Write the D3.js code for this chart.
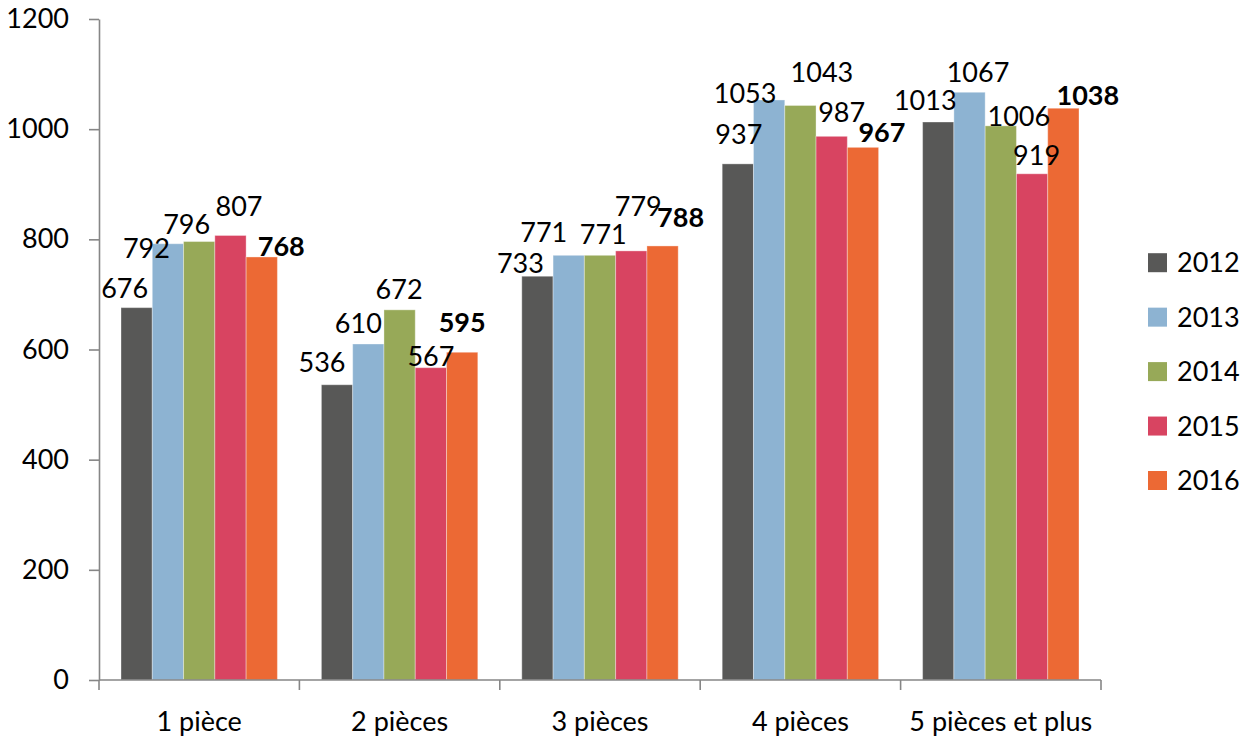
<!DOCTYPE html>
<html>
<head>
<meta charset="utf-8">
<script src="https://cdn.jsdelivr.net/npm/d3@7"></script>
<style>
  html, body { margin: 0; padding: 0; background: #fff; }
  svg text { font-family: Lato, "Open Sans", sans-serif; fill: #000; }
</style>
</head>
<body>
<svg id="chart" width="1246" height="738"></svg>
<script>
// ---- data ----
const categories = ["1 pièce", "2 pièces", "3 pièces", "4 pièces", "5 pièces et plus"];
const years = ["2012", "2013", "2014", "2015", "2016"];
const v2012 = [676, 536, 733, 937, 1013];
const v2013 = [792, 610, 771, 1053, 1067];
const v2014 = [796, 672, 771, 1043, 1006];
const v2015 = [807, 567, 779, 987, 919];
const v2016 = [768, 595, 788, 967, 1038];
const yTicks = [0, 200, 400, 600, 800, 1000, 1200];

// ---- style / layout ----
const colors = ["#585857", "#8DB3D2", "#97A958", "#D84461", "#EC6934"];
const boldSeries = [false, false, false, false, true];
// label nudges (dx from bar centre, dy of baseline from bar top) as placed in the original
const labelNudge = [
  [[-12, -9.5], [-15, -13], [-17, -3], [1, -20], [-13, -12]],
  [[-21.5, 14], [-10, -10.5], [-25, -13.5], [-24, 3.5], [8.5, -10.5]],
  [[-12.5, -8], [-0.5, -10.5], [3.3, -11], [21.5, -23.5], [18, 0]],
  [[8.5, -19], [0, -1.5], [7, -35], [10, -14.5], [4.5, -9]],
  [[19.5, -1], [0, -20.5], [18, -19], [19, -5.5], [24.5, -3]]
];
const series = [v2012, v2013, v2014, v2015, v2016];

const svg = d3.select("#chart");
const mLeft = 99, mRight = 1101, mTop = 19, mBottom = 680;
const fontSize = 27;

const x0 = d3.scaleBand().domain(categories).range([mLeft, mRight]).padding(0);
const bw = x0.bandwidth();
const x1 = d3.scaleBand().domain(years).range([22, bw - 22]).padding(0);
const y = d3.scaleLinear().domain([0, 1200]).range([mBottom, mTop]);

// bars
const rows = [];
categories.forEach((c, ci) => {
  years.forEach((yr, si) => {
    rows.push({ c, ci, yr, si, v: series[si][ci] });
  });
});

svg.append("g").selectAll("rect").data(rows).join("rect")
  .attr("x", d => x0(d.c) + x1(d.yr))
  .attr("y", d => y(d.v))
  .attr("width", x1.bandwidth())
  .attr("height", d => y(0) - y(d.v))
  .attr("fill", d => colors[d.si])
  .attr("stroke", "#ffffff")
  .attr("stroke-opacity", 0.35)
  .attr("stroke-width", 1);

// y axis
const yAxis = d3.axisLeft(y).tickValues(yTicks).tickSize(10).tickSizeOuter(0).tickPadding(20).tickFormat(d3.format("d"));
const gy = svg.append("g").attr("transform", `translate(${mLeft},0)`).call(yAxis);
gy.selectAll("path, line").attr("stroke", "#868686").attr("stroke-width", 1.6);
gy.selectAll("text").attr("font-size", fontSize).attr("font-family", "Lato, 'Open Sans', sans-serif").attr("fill", "#000");

// x axis: baseline + boundary ticks
const gx = svg.append("g");
gx.append("line").attr("x1", mLeft).attr("x2", mRight).attr("y1", y(0)).attr("y2", y(0))
  .attr("stroke", "#868686").attr("stroke-width", 1.6);
const bounds = categories.map(c => x0(c)).concat([x0(categories[categories.length - 1]) + bw]);
gx.selectAll("line.tk").data(bounds).join("line").attr("class", "tk")
  .attr("x1", d => d).attr("x2", d => d).attr("y1", y(0)).attr("y2", y(0) + 10)
  .attr("stroke", "#868686").attr("stroke-width", 1.6);
gx.selectAll("text").data(categories).join("text")
  .attr("x", d => x0(d) + bw / 2)
  .attr("y", 731)
  .attr("text-anchor", "middle")
  .attr("font-size", fontSize)
  .text(d => d);

// value labels
svg.append("g").selectAll("text").data(rows).join("text")
  .attr("x", d => x0(d.c) + x1(d.yr) + x1.bandwidth() / 2 + labelNudge[d.si][d.ci][0])
  .attr("y", d => y(d.v) + labelNudge[d.si][d.ci][1])
  .attr("text-anchor", "middle")
  .attr("font-size", fontSize)
  .attr("font-weight", d => boldSeries[d.si] ? "bold" : "normal")
  .text(d => d.v);

// legend
const lg = svg.append("g").attr("transform", "translate(1148,0)");
const legendY = d3.scalePoint().domain(years).range([262.7, 480.5]);
const li = lg.selectAll("g").data(years).join("g")
  .attr("transform", d => `translate(0,${legendY(d)})`);
li.append("rect").attr("x", 0).attr("y", -9.5).attr("width", 19).attr("height", 19)
  .attr("fill", (d, i) => colors[i]);
li.append("text").attr("x", 29).attr("y", 0).attr("dy", "0.36em")
  .attr("font-size", fontSize).text(d => d);
</script>
</body>
</html>
